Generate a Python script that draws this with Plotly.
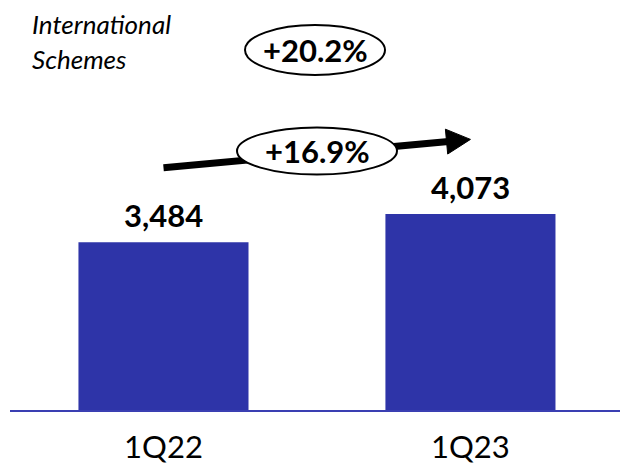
import math
import plotly.graph_objects as go

# ---- data ----
categories = ["1Q22", "1Q23"]
values = [3484, 4073]
value_labels = ["3,484", "4,073"]
growth_label = "+16.9%"
total_growth_label = "+20.2%"
title_lines = ["International", "Schemes"]

# ---- layout geometry (page body has an 8px margin) ----
OFF = 8
W, H = 628 - OFF, 469 - OFF
ML, MR, MT, MB = 10 - OFF, 1, 10 - OFF, 59
X_RANGE = [-0.5, 1.51]
Y_RANGE = [0, 8312]
PW = W - ML - MR
PH = H - MT - MB

BAR_COLOR = "#2E34A8"
FONT = "Lato"


# screen (reference) pixel <-> data / paper
def px_x(xd):
    return OFF + ML + (xd - X_RANGE[0]) / (X_RANGE[1] - X_RANGE[0]) * PW


def px_y(yd):
    return OFF + MT + PH - (yd - Y_RANGE[0]) / (Y_RANGE[1] - Y_RANGE[0]) * PH


def pap_x(px):
    return (px - OFF - ML) / PW


def pap_y(py):
    return (OFF + MT + PH - py) / PH


fig = go.Figure()
fig.add_trace(go.Bar(
    x=categories, y=values, marker=dict(color=BAR_COLOR, line=dict(width=0)),
    width=0.554, hoverinfo="skip",
))

shapes = []
annotations = []

# value labels
for i, (v, lab) in enumerate(zip(values, value_labels)):
    annotations.append(dict(
        x=categories[i], y=v, xref="x", yref="y", text=f"<b>{lab}</b>",
        showarrow=False, yanchor="bottom", yshift=6,
        font=dict(family=FONT, size=31, color="black"),
    ))

# growth arrow (from above first label to above second label)
arrow_offset = 1550
sx, sy = px_x(0), px_y(values[0] + arrow_offset)
tx, ty = px_x(1), px_y(values[1] + arrow_offset)
L = math.hypot(tx - sx, ty - sy)
dx, dy = (tx - sx) / L, (ty - sy) / L
nx, ny = -dy, dx
head_len, head_half = 24, 12.5
bx, by = tx - head_len * dx, ty - head_len * dy
shapes.append(dict(
    type="line", xref="paper", yref="paper",
    x0=pap_x(sx), y0=pap_y(sy), x1=pap_x(bx + 2 * dx), y1=pap_y(by + 2 * dy),
    line=dict(color="black", width=7),
))
p1 = (bx + head_half * nx, by + head_half * ny)
p2 = (bx - head_half * nx, by - head_half * ny)
path = (f"M {pap_x(tx)},{pap_y(ty)} L {pap_x(p1[0])},{pap_y(p1[1])} "
        f"L {pap_x(p2[0])},{pap_y(p2[1])} Z")
shapes.append(dict(type="path", xref="paper", yref="paper", path=path,
                   fillcolor="black", line=dict(color="black", width=1)))


def ellipse(cx, cy, rx, ry, text):
    shapes.append(dict(
        type="circle", xref="paper", yref="paper",
        x0=pap_x(cx - rx), x1=pap_x(cx + rx), y0=pap_y(cy + ry), y1=pap_y(cy - ry),
        fillcolor="white", line=dict(color="black", width=2),
    ))
    annotations.append(dict(
        x=pap_x(cx), y=pap_y(cy), xref="paper", yref="paper",
        text=f"<b>{text}</b>", showarrow=False, xanchor="center", yanchor="middle",
        font=dict(family=FONT, size=31, color="black"),
    ))


ellipse(317, 151, 80, 23.5, growth_label)
ellipse(315, 50, 70, 25, total_growth_label)

# title text
for line, cy in zip(title_lines, [24, 59]):
    annotations.append(dict(
        x=pap_x(30), y=pap_y(cy), xref="paper", yref="paper",
        text=f"<i>{line}</i>", showarrow=False, xanchor="left", yanchor="middle",
        font=dict(family=FONT, size=26, color="black"),
    ))

fig.update_layout(
    width=W, height=H,
    margin=dict(l=ML, r=MR, t=MT, b=MB),
    paper_bgcolor="white", plot_bgcolor="white",
    showlegend=False,
    shapes=shapes, annotations=annotations,
    xaxis=dict(
        range=X_RANGE, showgrid=False, zeroline=False,
        showline=True, linecolor="#3A3FB2", linewidth=2,
        ticks="", ticklabelstandoff=9,
        tickfont=dict(family=FONT, size=31, color="black"),
    ),
    yaxis=dict(range=Y_RANGE, visible=False, showgrid=False, zeroline=False),
)

fig.write_html("out.html")
